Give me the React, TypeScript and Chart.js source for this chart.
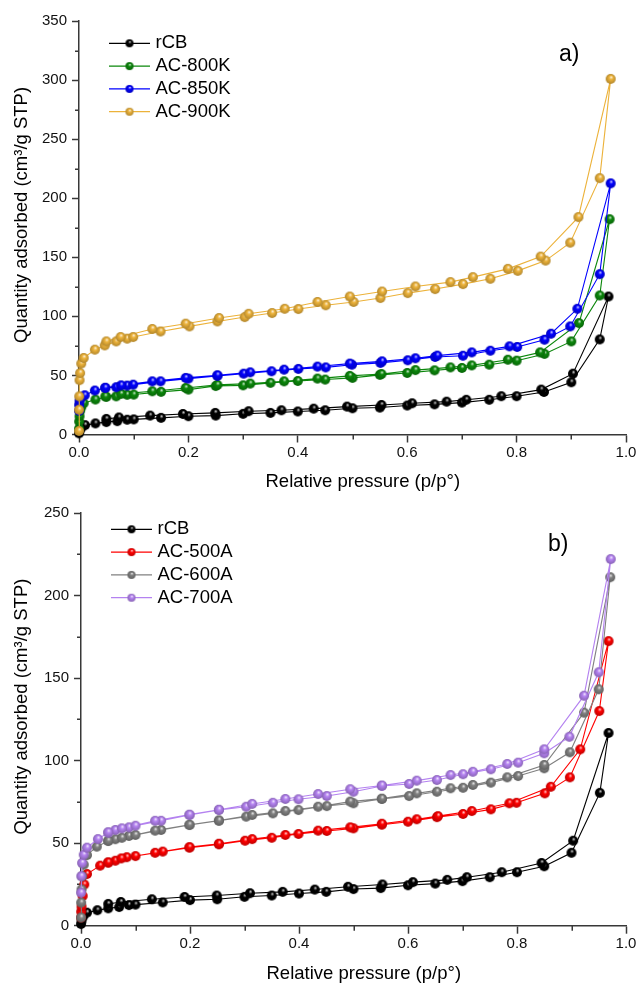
import React, { useEffect, useRef } from 'react';
import { Chart, registerables } from 'chart.js';

Chart.register(...registerables);

// ---------------- data (relative pressure p/p°, quantity adsorbed cm³/g STP) ----------------
// rCB (shared by both panels)
const rcbAdsP = [0.0001, 0.001, 0.004, 0.011, 0.03, 0.05, 0.07, 0.088, 0.1, 0.15, 0.2, 0.25, 0.3, 0.35, 0.4, 0.45, 0.5, 0.55, 0.6, 0.65, 0.7, 0.75, 0.8, 0.85, 0.9, 0.952, 0.968];
const rcbAdsQ = [1.0, 3.0, 5.5, 7.9, 9.4, 10.5, 11.3, 12.5, 12.8, 14.1, 15.5, 16.0, 17.5, 18.3, 19.5, 20.5, 22.2, 22.8, 24.5, 25.5, 27.0, 29.4, 32.4, 36.0, 44.2, 80.5, 116.8];
const rcbDesP = [0.903, 0.845, 0.772, 0.708, 0.672, 0.609, 0.553, 0.49, 0.429, 0.37, 0.31, 0.249, 0.19, 0.13, 0.073, 0.05];
const rcbDesQ = [51.5, 38.0, 32.4, 29.4, 27.8, 26.4, 25.0, 23.6, 21.9, 20.5, 19.7, 18.3, 17.4, 16.0, 14.4, 13.2];

// AC-800K
const k800AdsP = [0.00005, 0.0003, 0.001, 0.002, 0.004, 0.0085, 0.03, 0.05, 0.068, 0.088, 0.1, 0.15, 0.2, 0.25, 0.3, 0.35, 0.4, 0.45, 0.5, 0.55, 0.6, 0.65, 0.7, 0.75, 0.8, 0.851, 0.9, 0.952, 0.97];
const k800AdsQ = [5, 11, 15.5, 20, 23, 26.5, 29.6, 31.8, 32.3, 33.6, 33.8, 36.1, 38.0, 41.0, 41.6, 43.7, 45.3, 46.5, 47.9, 50.5, 52.1, 54.3, 56.3, 59.1, 62.5, 68.2, 78.8, 117.7, 182.2];
const k800DesP = [0.914, 0.843, 0.784, 0.718, 0.679, 0.615, 0.553, 0.495, 0.436, 0.375, 0.313, 0.253, 0.195, 0.134, 0.077, 0.048];
const k800DesQ = [94.3, 69.5, 63.3, 58.5, 56.8, 54.5, 51.2, 49.6, 47.3, 45.0, 43.1, 42.0, 39.4, 36.6, 34.4, 32.3];

// AC-850K
const k850AdsP = [0.00005, 0.0003, 0.001, 0.003, 0.0104, 0.029, 0.048, 0.068, 0.088, 0.099, 0.149, 0.2, 0.253, 0.301, 0.352, 0.401, 0.451, 0.499, 0.551, 0.601, 0.651, 0.702, 0.752, 0.801, 0.851, 0.898, 0.952, 0.972];
const k850AdsQ = [20, 25, 28.5, 31, 33.2, 37.2, 39.4, 40.0, 41.4, 42.2, 45.0, 47.3, 49.6, 51.5, 53.5, 55.5, 56.8, 59.1, 60.6, 62.8, 65.6, 66.7, 70.9, 74.1, 80.2, 91.5, 135.7, 212.6];
const k850DesP = [0.911, 0.863, 0.787, 0.718, 0.655, 0.615, 0.554, 0.495, 0.436, 0.375, 0.313, 0.253, 0.195, 0.134, 0.077, 0.048];
const k850DesQ = [106.4, 85.3, 74.6, 69.5, 66.8, 64.5, 61.9, 60.0, 57.5, 54.9, 52.6, 50.2, 47.9, 45.0, 41.6, 39.6];

// AC-900K
const k900AdsP = [0.00002, 0.0001, 0.0004, 0.001, 0.002, 0.004, 0.0085, 0.029, 0.047, 0.068, 0.088, 0.099, 0.149, 0.202, 0.253, 0.303, 0.353, 0.401, 0.451, 0.502, 0.551, 0.601, 0.651, 0.702, 0.752, 0.802, 0.853, 0.898, 0.952, 0.972];
const k900AdsQ = [3, 21, 32.3, 46, 52, 60, 64.8, 71.8, 75.4, 78.8, 81.1, 82.5, 87.2, 91.5, 95.7, 99.4, 102.8, 106.2, 109.4, 112.2, 115.5, 119.7, 123.1, 127.3, 131.8, 138.5, 147.2, 162.4, 217, 301];
const k900DesP = [0.913, 0.844, 0.784, 0.72, 0.679, 0.615, 0.554, 0.495, 0.436, 0.376, 0.31, 0.256, 0.195, 0.134, 0.076, 0.05];
const k900DesQ = [184, 150.6, 140.2, 133.2, 129.0, 125.3, 121.0, 116.8, 112.2, 106.4, 102.2, 98.6, 93.8, 89.3, 82.5, 78.8];

// AC-500A
const a500AdsP = [0.00005, 0.0003, 0.001, 0.003, 0.006, 0.011, 0.035, 0.05, 0.063, 0.084, 0.1, 0.15, 0.199, 0.253, 0.301, 0.35, 0.399, 0.451, 0.5, 0.552, 0.6, 0.653, 0.701, 0.752, 0.799, 0.851, 0.897, 0.951, 0.968];
const a500AdsQ = [5, 8.5, 11.5, 18, 25, 31.3, 36.4, 38.2, 39.4, 41.5, 42.2, 44.9, 47.3, 49.3, 51.5, 53.3, 55.6, 57.4, 59.0, 61.2, 63.0, 65.8, 67.7, 70.5, 74.5, 80.2, 89.9, 130.1, 172.5];
const a500DesP = [0.916, 0.862, 0.786, 0.717, 0.655, 0.616, 0.552, 0.494, 0.435, 0.375, 0.314, 0.253, 0.199, 0.136, 0.074, 0.05];
const a500DesQ = [106.9, 84.2, 74.2, 69.5, 66.4, 64.5, 61.8, 59.6, 57.6, 55.0, 52.5, 49.7, 47.6, 44.2, 40.8, 38.4];

// AC-600A
const a600AdsP = [0.00005, 0.0003, 0.001, 0.002, 0.005, 0.011, 0.029, 0.05, 0.063, 0.088, 0.1, 0.147, 0.199, 0.253, 0.303, 0.352, 0.399, 0.451, 0.5, 0.552, 0.602, 0.653, 0.701, 0.752, 0.802, 0.85, 0.897, 0.95, 0.971];
const a600AdsQ = [5, 14, 22, 30, 37, 42.8, 47.9, 51.3, 52.4, 54.4, 55.0, 58.0, 61.0, 63.6, 66.1, 68.1, 70.1, 72.5, 74.2, 76.8, 78.6, 81.2, 83.6, 86.7, 90.7, 95.4, 105.1, 143.3, 211.2];
const a600DesP = [0.923, 0.85, 0.782, 0.719, 0.678, 0.616, 0.552, 0.494, 0.435, 0.375, 0.314, 0.253, 0.199, 0.136, 0.075, 0.05];
const a600DesQ = [129.1, 97.4, 89.9, 85.3, 83.3, 80.2, 77.0, 75.2, 72.1, 69.5, 67.1, 63.8, 61.2, 57.6, 53.3, 51.5];

// AC-700A
const a700AdsP = [0.0001, 0.0005, 0.002, 0.005, 0.011, 0.031, 0.05, 0.063, 0.088, 0.1, 0.147, 0.199, 0.253, 0.303, 0.352, 0.399, 0.451, 0.5, 0.552, 0.602, 0.653, 0.701, 0.752, 0.802, 0.85, 0.896, 0.95, 0.972];
const a700AdsQ = [20, 30, 38, 43, 47.3, 52.5, 56.4, 58.0, 59.6, 60.6, 63.6, 67.1, 70.1, 72.1, 74.5, 76.6, 78.6, 81.2, 84.7, 85.9, 88.3, 91.8, 94.8, 98.8, 104.5, 114.5, 153.6, 222.2];
const a700DesP = [0.923, 0.85, 0.782, 0.719, 0.678, 0.616, 0.552, 0.494, 0.435, 0.375, 0.314, 0.253, 0.199, 0.136, 0.075, 0.05];
const a700DesQ = [139.4, 106.9, 98.0, 93.3, 91.3, 87.9, 85.0, 82.7, 79.8, 76.8, 73.8, 70.3, 67.3, 63.6, 59.0, 56.6];

const panelALabels = ['rCB', 'AC-800K', 'AC-850K', 'AC-900K'];
const panelBLabels = ['rCB', 'AC-500A', 'AC-600A', 'AC-700A'];
const panelAYMax = 350;
const panelBYMax = 250;
// leading spaces reproduce the original's slightly off-centre axis titles
const xTitle = '    Relative pressure (p/p\u00B0)';
const yTitle = '     Quantity adsorbed (cm\u00B3/g STP)';

// ---------------- styling ----------------
const FONT = '"Liberation Sans", Arial, Helvetica, sans-serif';
const AXIS = '#383838';
const COLORS_A = ['#000000', '#0b870b', '#0000ff', '#ecb23a'];
const COLORS_B = ['#000000', '#ff0000', '#808080', '#b482f0'];

type Pt = { x: number; y: number };
function loop(adsP: number[], adsQ: number[], desP: number[], desQ: number[]): Pt[] {
  const pts: Pt[] = adsP.map((p, i) => ({ x: p, y: adsQ[i] }));
  desP.forEach((p, i) => pts.push({ x: p, y: desQ[i] }));
  return pts;
}

const rcbLoop = loop(rcbAdsP, rcbAdsQ, rcbDesP, rcbDesQ);
const panelAData = [
  rcbLoop,
  loop(k800AdsP, k800AdsQ, k800DesP, k800DesQ),
  loop(k850AdsP, k850AdsQ, k850DesP, k850DesQ),
  loop(k900AdsP, k900AdsQ, k900DesP, k900DesQ),
];
const panelBData = [
  rcbLoop,
  loop(a500AdsP, a500AdsQ, a500DesP, a500DesQ),
  loop(a600AdsP, a600AdsQ, a600DesP, a600DesQ),
  loop(a700AdsP, a700AdsQ, a700DesP, a700DesQ),
];

function hexToRgb(h: string) {
  const n = parseInt(h.slice(1), 16);
  return [(n >> 16) & 255, (n >> 8) & 255, n & 255];
}
function mix(h: string, t: number[], f: number) {
  const c = hexToRgb(h);
  return `rgb(${c.map((v, i) => Math.round(v + (t[i] - v) * f)).join(',')})`;
}
function makeBall(color: string, r: number) {
  const size = Math.ceil(r * 2 + 2);
  const c = document.createElement('canvas');
  c.width = size;
  c.height = size;
  const g = c.getContext('2d')!;
  const cx = size / 2;
  const cy = size / 2;
  const grad = g.createRadialGradient(cx + r * 0.15, cy - r * 0.4, 0, cx, cy, r);
  grad.addColorStop(0, '#ffffff');
  grad.addColorStop(0.16, mix(color, [255, 255, 255], 0.5));
  grad.addColorStop(0.4, color);
  grad.addColorStop(1, mix(color, [0, 0, 0], 0.25));
  g.fillStyle = grad;
  g.beginPath();
  g.arc(cx, cy, r, 0, Math.PI * 2);
  g.fill();
  return c;
}

type PanelProps = {
  labels: string[];
  data: Pt[][];
  colors: string[];
  yMax: number;
  top: number;
  height: number;
  yAxisW: number;
  padTop: number;
  xScaleH: number;
  xTitlePadB: number;
  tag: string;
  tagX: number;
  tagY: number;
  legendX: number;
  legendY: number;
};

function Panel(p: PanelProps) {
  const ref = useRef<HTMLCanvasElement | null>(null);
  useEffect(() => {
    if (!ref.current) return;
    const balls = p.colors.map((c) => makeBall(c, 5));
    const legendBalls = p.colors.map((c) => makeBall(c, 4));
    const decor = {
      id: 'decor',
      beforeDatasetsDraw(chart: any) {
        const { ctx, chartArea: a, scales } = chart;
        const x = scales.x;
        const y = scales.y;
        ctx.save();
        ctx.strokeStyle = AXIS;
        ctx.lineWidth = 1.5;
        ctx.beginPath();
        for (let k = 1; k < 10; k += 2) {
          const px = Math.round(x.getPixelForValue(k / 10)) + 0.25;
          ctx.moveTo(px, a.bottom);
          ctx.lineTo(px, a.bottom + 5);
        }
        for (let v = 25; v < p.yMax; v += 50) {
          const py = Math.round(y.getPixelForValue(v)) + 0.25;
          ctx.moveTo(a.left, py);
          ctx.lineTo(a.left - 4, py);
        }
        ctx.stroke();
        ctx.restore();
      },
      afterDatasetsDraw(chart: any) {
        const { ctx } = chart;
        ctx.save();
        ctx.font = `18.5px ${FONT}`;
        ctx.textBaseline = 'middle';
        ctx.textAlign = 'left';
        p.labels.forEach((lab, i) => {
          const yy = p.legendY + i * 22.8;
          ctx.strokeStyle = p.colors[i];
          ctx.lineWidth = 1.2;
          ctx.beginPath();
          ctx.moveTo(p.legendX, yy);
          ctx.lineTo(p.legendX + 41, yy);
          ctx.stroke();
          const b = legendBalls[i];
          ctx.drawImage(b, p.legendX + 20.5 - b.width / 2, yy - b.height / 2);
          ctx.fillStyle = '#000';
          ctx.fillText(lab, p.legendX + 46.5, yy);
        });
        ctx.font = `23px ${FONT}`;
        ctx.textBaseline = 'alphabetic';
        ctx.fillText(p.tag, p.tagX, p.tagY);
        ctx.restore();
      },
    };
    const isMajorX = (v: number) => Math.round(v * 10) % 2 === 0;
    const isMajorY = (v: number) => Math.round(v) % 50 === 0;
    const chart = new Chart(ref.current, {
      type: 'scatter',
      data: {
        datasets: p.data.map((d, i) => ({
          label: p.labels[i],
          data: d,
          showLine: true,
          borderColor: p.colors[i],
          backgroundColor: p.colors[i],
          borderWidth: 1.1,
          pointStyle: balls[i] as any,
          pointRadius: 5,
          pointHoverRadius: 5,
          tension: 0,
          clip: false as any,
          order: p.data.length - i,
        })),
      },
      options: {
        animation: false,
        responsive: false,
        devicePixelRatio: 1,
        events: [],
        layout: { padding: { top: p.padTop, right: 12, left: 0, bottom: 0 } },
        plugins: { legend: { display: false }, tooltip: { enabled: false } },
        scales: {
          x: {
            type: 'linear',
            min: 0,
            max: 1,
            afterFit: (s: any) => {
              s.height = p.xScaleH;
            },
            ticks: {
              stepSize: 0.1,
              autoSkip: false,
              maxRotation: 0,
              padding: 1,
              color: '#111',
              font: { family: FONT, size: 15 },
              callback: (v: any) => (isMajorX(Number(v)) ? Number(v).toFixed(1) : ''),
            },
            grid: {
              display: true,
              drawOnChartArea: false,
              drawTicks: true,
              tickLength: 8,
              tickWidth: 1.5,
              tickColor: (c: any) => (isMajorX(c.tick.value) ? AXIS : 'rgba(0,0,0,0)'),
            },
            border: { display: true, color: AXIS, width: 1.5 },
            title: {
              display: true,
              text: xTitle,
              color: '#000',
              font: { family: FONT, size: 18.5, lineHeight: 1 },
              padding: { top: 0, bottom: p.xTitlePadB },
            },
          },
          y: {
            type: 'linear',
            min: 0,
            max: p.yMax,
            afterFit: (s: any) => {
              s.width = p.yAxisW;
            },
            ticks: {
              stepSize: 25,
              autoSkip: false,
              padding: 5,
              color: '#111',
              font: { family: FONT, size: 15 },
              callback: (v: any) => (isMajorY(Number(v)) ? String(v) : ''),
            },
            grid: {
              display: true,
              drawOnChartArea: false,
              drawTicks: true,
              tickLength: 7,
              tickWidth: 1.5,
              tickColor: (c: any) => (isMajorY(c.tick.value) ? AXIS : 'rgba(0,0,0,0)'),
            },
            border: { display: true, color: AXIS, width: 1.5 },
            title: {
              display: true,
              text: yTitle,
              color: '#000',
              font: { family: FONT, size: 18.5, lineHeight: 1 },
              padding: { top: 13, bottom: 0 },
            },
          },
        },
      } as any,
      plugins: [decor as any],
    });
    return () => chart.destroy();
  }, []);
  return (
    <canvas
      ref={ref}
      width={638}
      height={p.height}
      style={{ position: 'absolute', left: 0, top: p.top, width: 638, height: p.height, display: 'block' }}
    />
  );
}

export default function App() {
  return (
    <div style={{ position: 'absolute', left: 0, top: 0, width: 638, height: 983, background: '#fff', overflow: 'hidden' }}>
      <Panel
        labels={panelALabels}
        data={panelAData}
        colors={COLORS_A}
        yMax={panelAYMax}
        top={0}
        height={495}
        yAxisW={79}
        padTop={21}
        xScaleH={60.5}
        xTitlePadB={4}
        tag="a)"
        tagX={559}
        tagY={60.5}
        legendX={109}
        legendY={43.3}
      />
      <Panel
        labels={panelBLabels}
        data={panelBData}
        colors={COLORS_B}
        yMax={panelBYMax}
        top={495}
        height={488}
        yAxisW={81}
        padTop={18.2}
        xScaleH={57.3}
        xTitlePadB={0}
        tag="b)"
        tagX={548}
        tagY={55.5}
        legendX={111}
        legendY={34.3}
      />
    </div>
  );
}
